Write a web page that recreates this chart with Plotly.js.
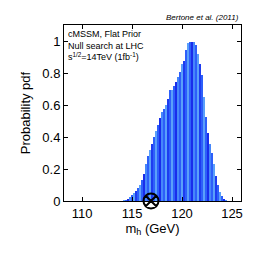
<!DOCTYPE html>
<html><head><meta charset="utf-8">
<script src="https://cdn.plot.ly/plotly-3.0.1.min.js"></script>
<style>html,body{margin:0;padding:0;background:#fff}#c{width:266px;height:266px}</style>
</head><body><div id="c"></div>
<script>
const mh = [114.0,114.2,114.4,114.6,114.8,115.0,115.2,115.4,115.6,115.8,116.0,116.2,116.4,116.6,116.8,117.0,117.2,117.4,117.6,117.8,118.0,118.2,118.4,118.6,118.8,119.0,119.2,119.4,119.6,119.8,120.0,120.2,120.4,120.6,120.8,121.0,121.2,121.4,121.6,121.8,122.0,122.2,122.4,122.6,122.8,123.0,123.2,123.4,123.6,123.8,124.0,124.2,124.4,124.6];
const pdf = [0.002,0.004,0.008,0.014,0.025,0.035,0.048,0.063,0.08,0.10,0.13,0.17,0.23,0.28,0.32,0.36,0.40,0.44,0.48,0.52,0.56,0.58,0.60,0.64,0.70,0.70,0.72,0.75,0.78,0.81,0.86,0.88,0.95,0.99,1.00,1.00,1.00,0.98,0.92,0.86,0.79,0.65,0.53,0.43,0.36,0.30,0.23,0.16,0.10,0.055,0.03,0.015,0.006,0.002];
const lhcMass = [116.9];
const lhcY = [0];
const xTicks = [110,115,120,125];
const yTicks = [0,0.2,0.4,0.6,0.8,1];
const yTickText = ['0','0.2','0.4','0.6','0.8','1'];

const stripePalette = ['rgb(45,95,250)','rgb(90,160,250)','rgb(45,95,250)','rgb(25,45,235)','rgb(70,135,250)','rgb(45,95,250)','rgb(90,160,250)','rgb(30,60,240)'];
const barColors = mh.map((_, i) => stripePalette[i % stripePalette.length]);

const data = [
  {type:'bar', x: mh, y: pdf, width: 0.2, marker:{color: barColors, line:{width:0}}, hoverinfo:'skip'},
  {type:'scatter', mode:'markers', x: lhcMass, y: lhcY, cliponaxis:false,
   marker:{symbol:'circle-x-open', size:15, color:'black', line:{width:2, color:'black'}}}
];
const fnt = {family:'Liberation Sans, Arial, sans-serif', color:'black'};
const layout = {
  width:266, height:266, showlegend:false, bargap:0,
  paper_bgcolor:'white', plot_bgcolor:'white',
  margin:{l:64, r:25, t:25, b:65},
  xaxis:{range:[108.2,125.9], tickvals:xTicks, ticks:'inside', ticklen:4, tickcolor:'black',
    showline:true, linecolor:'black', linewidth:1, mirror:'ticks', showgrid:false, zeroline:false,
    tickfont:Object.assign({size:13}, fnt),
    title:{text:'m<sub>h</sub> (GeV)', font:Object.assign({size:13}, fnt), standoff:3}},
  yaxis:{range:[0,1.105], tickvals:yTicks, ticktext:yTickText, ticks:'inside', ticklen:4, tickcolor:'black',
    showline:true, linecolor:'black', linewidth:1, mirror:'ticks', showgrid:false, zeroline:false,
    tickfont:Object.assign({size:13}, fnt),
    title:{text:'Probability pdf', font:Object.assign({size:13}, fnt), standoff:8}},
  annotations:[
    {xref:'paper', yref:'paper', x:1, y:1, xanchor:'right', yanchor:'bottom', yshift:1, showarrow:false,
     text:'<i>Bertone et al. (2011)</i>', font:Object.assign({size:8}, fnt)},
    {xref:'paper', yref:'paper', x:0.01, y:0.99, xanchor:'left', yanchor:'top', align:'left', showarrow:false,
     text:'cMSSM, Flat Prior<br>Null search at LHC<br>s<sup>1/2</sup>=14TeV (1fb<sup>-1</sup>)',
     font:Object.assign({size:9}, fnt)}
  ]
};
Plotly.newPlot('c', data, layout, {staticPlot:true, displayModeBar:false});
</script></body></html>
